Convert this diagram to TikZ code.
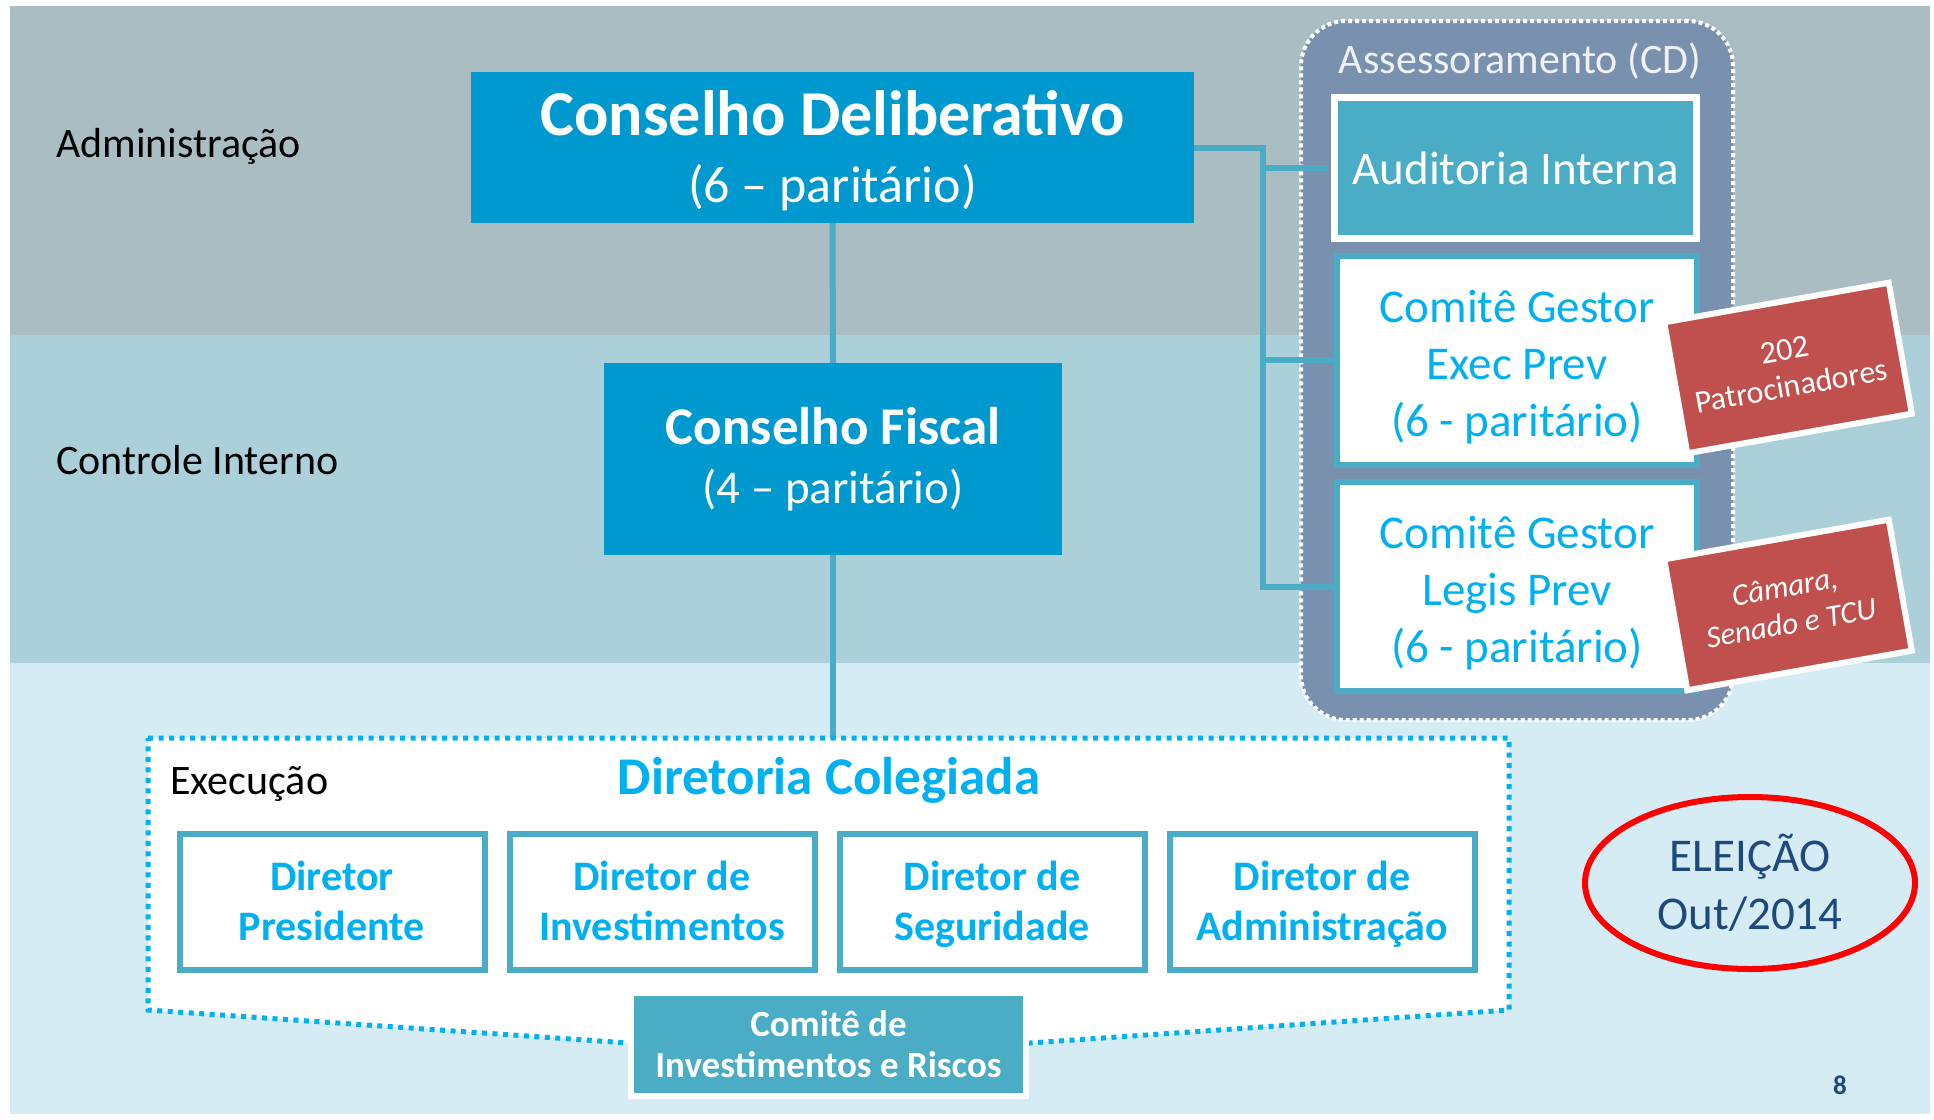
\documentclass[tikz,border=0pt]{standalone}
\usepackage{fontspec}
\setmainfont{Carlito}
\usetikzlibrary{positioning, shapes.geometric}
\definecolor{conselhocol}{HTML}{0099CF}
\definecolor{auditcol}{HTML}{4BACC6}
\definecolor{ciano}{HTML}{00B0F0}
\definecolor{tijolo}{HTML}{C0504D}
\definecolor{marinho}{HTML}{1F497D}
\definecolor{faixaA}{HTML}{A9BDC2}
\definecolor{faixaB}{HTML}{ABD0DA}
\definecolor{faixaC}{HTML}{D6ECF4}
\definecolor{assesscol}{HTML}{7A90AF}
\tikzset{conselho/.style={fill=conselhocol,text=white,align=center,inner sep=0pt,font=\fontsize{52}{67}\selectfont},
         assessbox/.style={fill=assesscol,draw=white,line width=4pt,dash pattern=on 4pt off 3pt,rounded corners=45pt,inner sep=0pt},
         auditoria/.style={fill=auditcol,draw=white,line width=7pt,text=white,minimum width=362pt,minimum height=141pt,font=\fontsize{47}{57}\selectfont},
         comite/.style={fill=white,draw=auditcol,line width=6pt,text=ciano,align=center,minimum width=360pt,minimum height=209pt,text height=161pt,text depth=9pt,font=\fontsize{47}{57}\selectfont},
         nota/.style={fill=tijolo,draw=white,line width=6pt,text=white,align=center,minimum width=228pt,minimum height=133pt,font=\fontsize{32}{37}\selectfont},
         conector/.style={draw=auditcol,line width=6pt},
         pontilhado/.style={draw=ciano,line width=5pt,dash pattern=on 5pt off 5.5pt},
         diretor/.style={fill=white,draw=auditcol,line width=6pt,text=ciano,align=center,minimum width=305pt,minimum height=136pt,text height=77pt,text depth=0pt,font=\fontsize{42}{50}\selectfont\bfseries},
         rotulo/.style={text=black,inner sep=0pt,font=\fontsize{42}{50}\selectfont},
        }
\begin{document}
\begin{tikzpicture}[x=1pt,y=-1pt]
        \useasboundingbox (0,0) rectangle (1934,1119);
        \fill[white] (0,0) rectangle (1934,1119);
        \fill[faixaA] (10,6) rectangle (1930,335);
        \fill[faixaB] (10,335) rectangle (1930,663);
        \fill[faixaC] (10,663) rectangle (1930,1114);

        \node[rotulo, anchor=west](adm)at(56,146){Administração};
        \node[rotulo, anchor=west](ctrl)at(56,460){Controle Interno};

        \node[assessbox, minimum width=432pt, minimum height=699pt](assess)at(1517,370.5){};
        \node[text=white!88!assesscol, font=\fontsize{42}{50}\selectfont, anchor=north](assesslbl)at(1520,39){Assessoramento (CD)};

        \node[conselho, minimum width=723pt, minimum height=151pt, text height=120pt, text depth=10.4pt](cd)at(832.5,147.5){{\bfseries\fontsize{64}{67}\selectfont Conselho Deliberativo}\\(6 – paritário)};
        \node[conselho, minimum width=458pt, minimum height=192pt, font=\fontsize{47}{59}\selectfont](cf)at(833,459){{\bfseries\fontsize{53}{59}\selectfont Conselho Fiscal}\\(4 – paritário)};

        \coordinate (bus) at (1263,0);
        \node[auditoria](aud)at(1515.5,168){Auditoria Interna};
        \node[comite](exec)at(1517,360){Comitê Gestor\\Exec Prev\\(6 - paritário)};
        \node[comite](legis)at(1517,586.5){Comitê Gestor\\Legis Prev\\(6 - paritário)};

        \draw[conector](cd.east)--(cd.east -| bus)|-(legis.west);
        \draw[conector, shorten >=3.5pt](bus |- aud.west)--(aud.west);
        \draw[conector](bus |- exec.west)--(exec.west);
        \draw[conector](cd.south)--(cf.north);

        \node[nota, rotate=10](patroc)at(1788,368){202\\Patrocinadores};
        \node[nota, rotate=10, font=\fontsize{31}{37}\selectfont\itshape](casas)at(1788,605){Câmara,\\Senado e TCU};

        \coordinate (dtop) at (829,738);
        \draw[conector](cf.south)--(cf.south |- dtop);
        \draw[pontilhado, fill=white](148,738)--(1509,738)--(1509,1010)--(1030,1043)--(629,1043)--(148,1010)--cycle;

        \node[rotulo, anchor=west](exe)at(170,784){Execução};
        \node[text=ciano, font=\fontsize{53}{60}\selectfont\bfseries](dc)at(829,780){Diretoria Colegiada};

        \node[diretor](dp)at(332,902){Diretor\\Presidente};
        \node[diretor, right=19pt of dp](di){Diretor de\\Investimentos};
        \node[diretor, right=19pt of di](ds){Diretor de\\Seguridade};
        \node[diretor, right=19pt of ds](da){Diretor de\\Administração};

        \node[fill=auditcol, draw=white, line width=6pt, text=white, align=center, minimum width=395pt, minimum height=103pt, font=\fontsize{37}{41}\selectfont\bfseries](cir)at(828.5,1044.5){Comitê de\\Investimentos e Riscos};

        \node[ellipse, draw=red, line width=6pt, minimum width=330pt, minimum height=172pt, text=marinho, align=center, font=\fontsize{47}{58}\selectfont](eleicao)at(1750,883){ELEIÇÃO\\Out/2014};
        \node[text=marinho, font=\fontsize{27}{30}\selectfont\bfseries](pag)at(1840,1085){8};
    \end{tikzpicture}
\end{document}
